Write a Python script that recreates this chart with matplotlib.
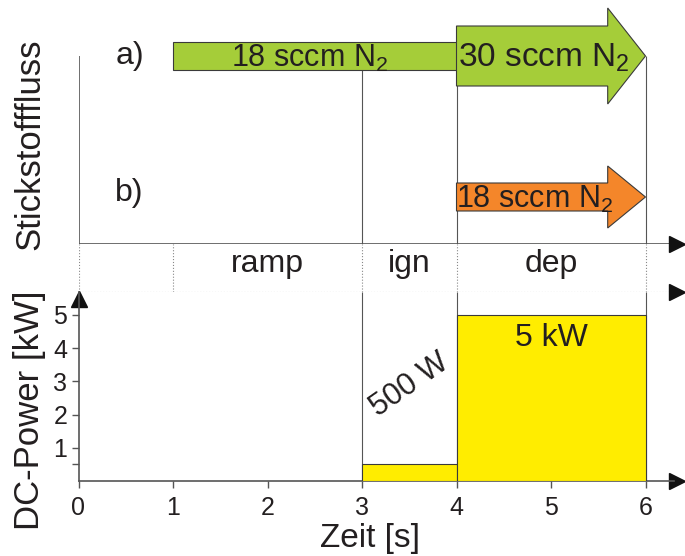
import matplotlib
matplotlib.use('Agg')
import matplotlib.pyplot as plt
from matplotlib.patches import Polygon
from matplotlib.ticker import FixedLocator

plt.rcParams['font.family'] = ['Liberation Sans', 'DejaVu Sans']
plt.rcParams['mathtext.fontset'] = 'custom'
plt.rcParams['mathtext.rm'] = 'Liberation Sans'

# Prozessabschnitte und DC-Leistung
phase_names = ['ramp', 'ign', 'dep']
phase_start = [1, 3, 4]
phase_end = [3, 4, 6]
power_kw = [0, 0.5, 5]

# Stickstofffluss, Reihe a) und b)
flow_a_start = [1, 4]
flow_a_end = [4, 6]
flow_a_sccm = [18, 30]
flow_b_start = [4]
flow_b_end = [6]
flow_b_sccm = [18]

xticks = [0, 1, 2, 3, 4, 5, 6]
yticks = [1, 2, 3, 4, 5]

# Stil
GREEN = '#a5cd39'
ORANGE = '#f4862a'
YELLOW = '#ffed00'
EDGE = '#3a3a3a'
LINE = '#555555'
TXT = '#231f20'
body_half = {18: 14, 30: 30}   # halbe Pfeilbreite in px je Fluss
XMAX = 6.4

W, H = 685, 556
fig = plt.figure(figsize=(W / 100, H / 100), dpi=100)

def box(top, bottom):
    return [78.5 / W, 1 - bottom / H, 94.5 * XMAX / W, (bottom - top) / H]

ax_top = fig.add_axes(box(0, 244))
ax_mid = fig.add_axes(box(244, 292))
ax_bot = fig.add_axes(box(292, 481))

for ax in (ax_top, ax_mid, ax_bot):
    ax.set_xlim(0, XMAX)
    ax.patch.set_alpha(0)

# ---------- oben: Stickstofffluss ----------
ax_top.set_ylim(244, 0)
ax_top.axis('off')

def flow_arrow(ax, yc, starts, ends, sccm, color, head_half, text_x, text_size, head_len=0.4):
    for i, (x0, x1, f) in enumerate(zip(starts, ends, sccm)):
        b = body_half[f]
        if i == len(sccm) - 1:
            xh = x1 - head_len
            pts = [(x0, yc - b), (xh, yc - b), (xh, yc - head_half), (x1, yc),
                   (xh, yc + head_half), (xh, yc + b), (x0, yc + b)]
        else:
            pts = [(x0, yc - b), (x1, yc - b), (x1, yc + b), (x0, yc + b)]
        ax.add_patch(Polygon(pts, closed=True, fc=color, ec=EDGE, lw=0.8, zorder=3))
        ax.text(text_x[i], yc + 2, '%d sccm N$_\\mathregular{2}$' % f, ha='center', va='center',
                fontsize=text_size[i], color=TXT, zorder=4)

ya, yb = 56, 197
flow_arrow(ax_top, ya, flow_a_start, flow_a_end, flow_a_sccm, GREEN, 48,
           text_x=[2.45, 4.92], text_size=[22, 24])
flow_arrow(ax_top, yb, flow_b_start, flow_b_end, flow_b_sccm, ORANGE, 31,
           text_x=[4.83], text_size=[22])

ax_top.vlines(phase_start[1:] + [phase_end[-1]], ya, 244, color=LINE, lw=0.8, zorder=1)
ax_top.vlines(0, ya, 244, color=LINE, lw=1.2)
ax_top.hlines(244, 0, 6.3, color=LINE, lw=1.2)
ax_top.plot([6.33], [244], marker='>', ms=11, color='#111111', clip_on=False)
ax_top.text(0.54, ya, 'a)', fontsize=23, ha='center', va='center', color=TXT)
ax_top.text(0.54, yb - 4, 'b)', fontsize=23, ha='center', va='center', color=TXT)

# ---------- Mitte: Prozessabschnitte ----------
ax_mid.set_ylim(0, 1)
ax_mid.axis('off')
ax_mid.vlines([0] + phase_start + [phase_end[-1]], 0, 1, color='#888888', lw=0.8, ls=':')
ax_mid.hlines(0, 0, 6.3, color='#888888', lw=0.8, ls=':')
ax_mid.plot([6.33], [0], marker='>', ms=11, color='#111111', clip_on=False)
for name, s, e in zip(phase_names, phase_start, phase_end):
    ax_mid.text((s + e) / 2, 0.58, name, ha='center', va='center', fontsize=23, color=TXT)

# ---------- unten: DC-Leistung ----------
ymax = 189 / 33.2
ax_bot.set_ylim(0, ymax)
widths = [e - s for s, e in zip(phase_start, phase_end)]
ax_bot.bar(phase_start[1:], power_kw[1:], width=widths[1:], align='edge',
           color=YELLOW, edgecolor=EDGE, lw=0.8, zorder=3)
ax_bot.vlines(phase_start[1:] + [phase_end[-1]], 0, ymax, color=LINE, lw=0.8, zorder=1)
ax_bot.text(3.5, 2.9, '500 W', rotation=35, ha='center', va='center', fontsize=22, color=TXT)
ax_bot.text(5, 4.3, '5 kW', ha='center', va='center', fontsize=23, color=TXT, zorder=4)

for sp in ('top', 'right'):
    ax_bot.spines[sp].set_visible(False)
for sp in ('left', 'bottom'):
    ax_bot.spines[sp].set_color(LINE)
    ax_bot.spines[sp].set_linewidth(1.2)
ax_bot.spines['bottom'].set_bounds(0, 6.3)
ax_bot.set_xticks(xticks)
ax_bot.set_yticks(yticks)
ax_bot.yaxis.set_minor_locator(FixedLocator([0.5]))
ax_bot.tick_params(axis='both', which='both', colors=LINE, labelcolor=TXT,
                   labelsize=18, length=5, width=1)
ax_bot.tick_params(axis='x', pad=6)
ax_bot.tick_params(axis='y', pad=3)
ax_bot.plot([6.33], [0], marker='>', ms=11, color='#111111', clip_on=False)
ax_bot.plot([0], [ymax - 0.2], marker='^', ms=11, color='#111111', clip_on=False)

fig.text(30 / W, 1 - 144 / H, 'Stickstofffluss', rotation=90, ha='center', va='center',
         fontsize=25, color=TXT)
fig.text(30 / W, 1 - 410 / H, 'DC-Power [kW]', rotation=90, ha='center', va='center',
         fontsize=25, color=TXT)
fig.text(370 / W, 1 - 538 / H, 'Zeit [s]', ha='center', va='center', fontsize=24, color=TXT)

fig.savefig('out.png', dpi=100)
